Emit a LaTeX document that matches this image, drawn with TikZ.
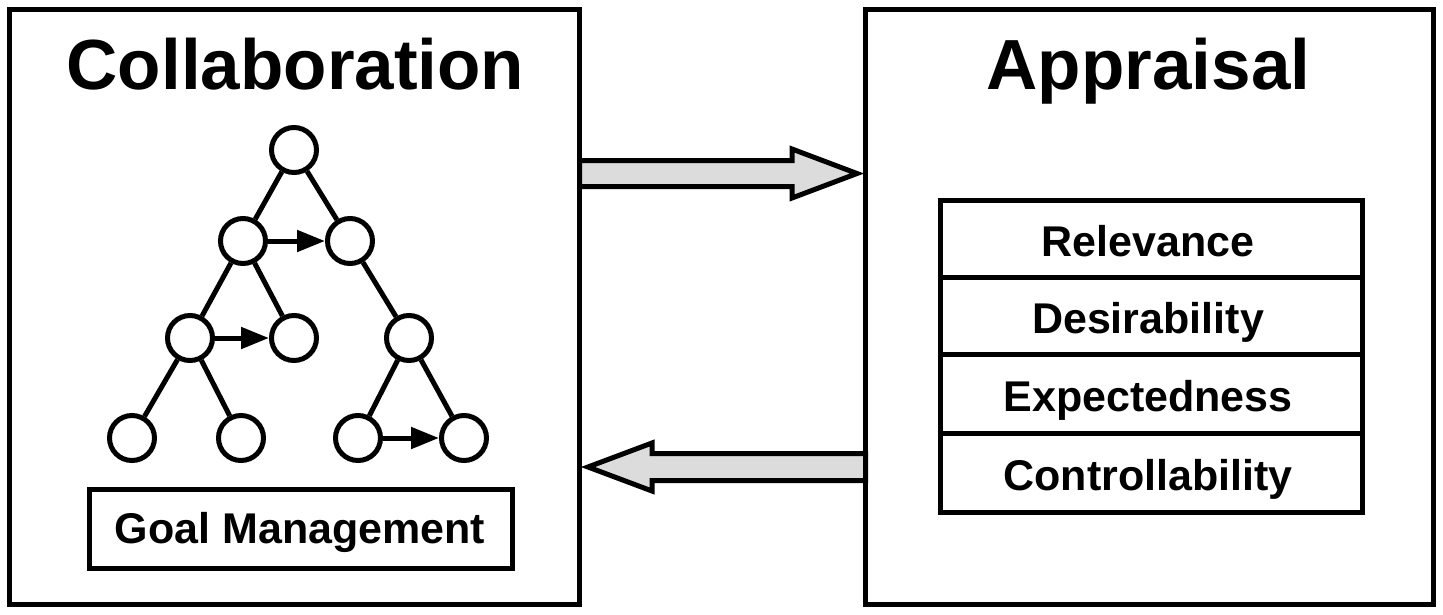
\documentclass[tikz,border=0pt]{standalone}
\usepackage{fontspec}
\setmainfont{Liberation Sans}
\usetikzlibrary{arrows.meta,calc}
\definecolor{arrowgray}{HTML}{DCDCDC}
\begin{document}
\begin{tikzpicture}[x=1pt,y=-1pt,
  panel/.style={draw, line width=5pt, inner sep=0pt, outer sep=0pt, fill=white},
  title/.style={anchor=base, font=\fontsize{71}{80}\selectfont\bfseries},
  rowbox/.style={draw, line width=5pt, inner sep=0pt, outer sep=0pt,
    minimum width=422pt, font=\fontsize{43}{50}\selectfont\bfseries,
    text height=35pt, text depth=0pt},
  gnode/.style={circle, draw, line width=5pt, minimum size=45pt, inner sep=0pt},
  gedge/.style={line width=5pt},
  garrow/.style={line width=5pt, -{Triangle[length=28pt,width=21pt]}},
  blockarrow/.style={draw, line width=5pt, fill=arrowgray, line join=miter}
]
\useasboundingbox[fill=white] (0,0) rectangle (1443,614);

% panels
\node[panel, minimum width=570pt, minimum height=595pt] (collab) at (294.5,307) {};
\node[panel, minimum width=567.5pt, minimum height=595pt] (appraisal) at (1149.25,307) {};

% titles
\node[title] (collabtitle) at (295.5,89) {Collaboration};
\node[title] (apptitle) at (1148.5,89.5) {Appraisal};

% goal tree
\node[gnode] (r)   at (294,150) {};
\node[gnode] (a1)  at (243,241) {};
\node[gnode] (b1)  at (350,241) {};
\node[gnode] (a2)  at (190,338) {};
\node[gnode] (b2)  at (294,338) {};
\node[gnode] (c2)  at (409,338) {};
\node[gnode] (a3)  at (132,438) {};
\node[gnode] (b3)  at (241,438) {};
\node[gnode] (c3)  at (358,438) {};
\node[gnode] (d3)  at (464,438) {};

\draw[gedge] (r) -- (a1);
\draw[gedge] (r) -- (b1);
\draw[gedge] (a1) -- (a2);
\draw[gedge] (a1) -- (b2);
\draw[gedge] (b1) -- (c2);
\draw[gedge] (a2) -- (a3);
\draw[gedge] (a2) -- (b3);
\draw[gedge] (c2) -- (c3);
\draw[gedge] (c2) -- (d3);
\draw[garrow] (a1) -- (b1);
\draw[garrow] (a2) -- (b2);
\draw[garrow] (c3) -- (d3);

% goal management box
\node[draw, line width=5pt, inner sep=0pt, outer sep=0pt, minimum width=423pt,
  minimum height=79pt, font=\fontsize{43}{50}\selectfont\bfseries,
  text height=29pt, text depth=0pt] (gm) at (301,528.5) {\hspace*{-2pt}Goal Management};

% appraisal table
\node[rowbox, minimum height=77.5pt] (rel) at (1151,238.75) {\hspace*{-6pt}Relevance};
\node[rowbox, minimum height=76.5pt] (des) at (1151,315.75) {\hspace*{-6pt}Desirability};
\node[rowbox, minimum height=79pt]   (exp) at (1151,393.5) {\hspace*{-6pt}Expectedness};
\node[rowbox, minimum height=79pt]   (con) at (1151,472.5) {\hspace*{-6pt}Controllability};

% block arrows
\coordinate (s1) at (collab.east |- 0,160.5);
\coordinate (s2) at (collab.east |- 0,186.5);
\coordinate (tipR) at ($(appraisal.west |- 0,173.5)+(-8.5,0)$);
\draw[blockarrow] (s1) -- (792,160.5) -- (792,149) -- (tipR)
  -- (792,198) -- (792,186.5) -- (s2) -- cycle;

\coordinate (u1) at (appraisal.west |- 0,453.5);
\coordinate (u2) at (appraisal.west |- 0,480.5);
\coordinate (tipL) at ($(collab.east |- 0,467)+(8.5,0)$);
\draw[blockarrow] (u1) -- (652,453.5) -- (652,443) -- (tipL)
  -- (652,491) -- (652,480.5) -- (u2) -- cycle;

% redraw panel borders on top
\draw[line width=5pt] (collab.north east) -- (collab.south east);
\draw[line width=5pt] (appraisal.north west) -- (appraisal.south west);
\end{tikzpicture}
\end{document}
